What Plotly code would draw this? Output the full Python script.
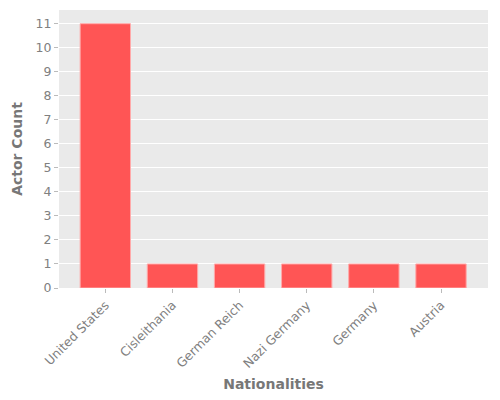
import plotly.graph_objects as go

nationalities = ["United States", "Cisleithania", "German Reich", "Nazi Germany", "Germany", "Austria"]
actor_counts = [11, 1, 1, 1, 1, 1]

fig = go.Figure(go.Bar(
    x=nationalities, y=actor_counts,
    marker=dict(color="#ff5555", line=dict(color="#ffaaaa", width=1)),
    width=0.75,
))

font_family = "DejaVu Sans"
fig.update_layout(
    width=484, height=384,
    margin=dict(l=51, r=4, t=2, b=104),
    paper_bgcolor="white", plot_bgcolor="#eaeaea",
    font=dict(family=font_family, color="#808080", size=12),
    showlegend=False,
)
fig.update_xaxes(
    automargin=False,
    range=[-0.69, 5.7], tickangle=-45, showgrid=False,
    ticks="outside", ticklen=4, tickcolor="#bbbbbb",
    title=dict(text="<b>Nationalities</b>", font=dict(size=14, color="#777777"), standoff=17),
    tickfont=dict(size=12.5, color="#808080"),
)
fig.update_yaxes(
    automargin=False,
    range=[0, 11.57], dtick=1, showgrid=True, gridcolor="white", gridwidth=1,
    zeroline=False,
    ticks="outside", ticklen=4, tickcolor="#bbbbbb",
    title=dict(text="<b>Actor Count</b>", font=dict(size=14, color="#777777"), standoff=9),
    tickfont=dict(size=12.5, color="#808080"),
)
fig.write_html("out.html")
